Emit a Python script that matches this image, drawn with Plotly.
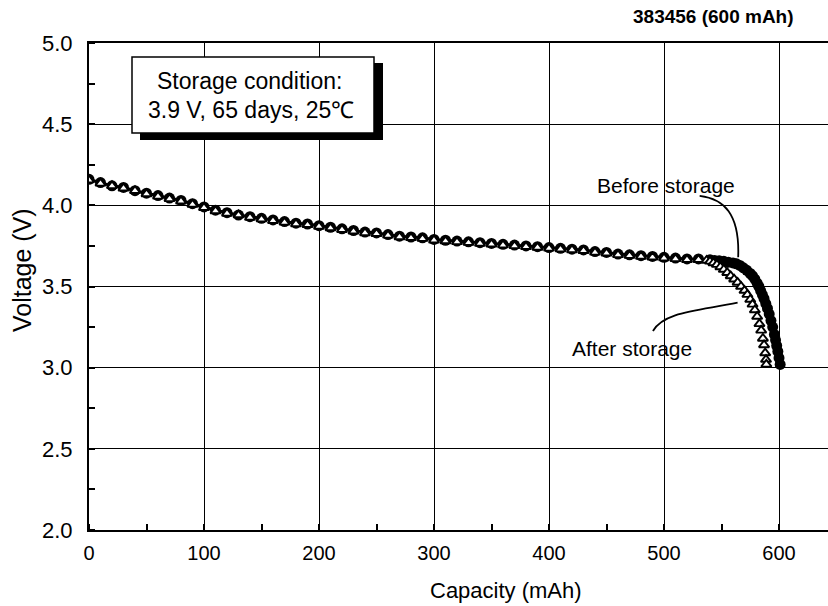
import plotly.graph_objects as go

# ---- data ----
before_cap = [0, 10, 20, 30, 40, 50, 60, 70, 80, 90, 100, 110, 120, 130, 140, 150, 160, 170, 180, 190,
              200, 210, 220, 230, 240, 250, 260, 270, 280, 290, 300, 310, 320, 330, 340, 350, 360, 370,
              380, 390, 400, 410, 420, 430, 440, 450, 460, 470, 480, 490, 500, 510, 520, 530, 540,
              544, 548, 552, 556, 560, 563, 566, 569, 572, 575, 577, 579, 581, 582.5, 584, 585.5,
              587, 588.5, 590, 591.5, 593, 594.5, 596, 597, 598, 599, 600, 601]
before_v = [4.16, 4.14, 4.12, 4.11, 4.09, 4.075, 4.06, 4.045, 4.03, 4.01, 3.99, 3.97, 3.955, 3.94, 3.93,
            3.92, 3.91, 3.90, 3.89, 3.885, 3.875, 3.865, 3.855, 3.845, 3.835, 3.83, 3.82, 3.81, 3.805,
            3.80, 3.79, 3.785, 3.78, 3.775, 3.77, 3.765, 3.76, 3.755, 3.75, 3.745, 3.74, 3.735, 3.73,
            3.725, 3.715, 3.71, 3.70, 3.695, 3.69, 3.685, 3.68, 3.675, 3.67, 3.67, 3.665,
            3.66, 3.658, 3.655, 3.65, 3.645, 3.64, 3.63, 3.615, 3.60, 3.58, 3.565, 3.545, 3.52, 3.50,
            3.475, 3.45, 3.425, 3.395, 3.365, 3.33, 3.29, 3.25, 3.205, 3.17, 3.135, 3.10, 3.06, 3.02]

after_cap = [0, 10, 20, 30, 40, 50, 60, 70, 80, 90, 100, 110, 120, 130, 140, 150, 160, 170, 180, 190,
             200, 210, 220, 230, 240, 250, 260, 270, 280, 290, 300, 310, 320, 330, 340, 350, 360, 370,
             380, 390, 400, 410, 420, 430, 440, 450, 460, 470, 480, 490, 500, 510, 520, 530, 537,
             540, 543, 546, 549, 552, 555, 558, 561, 564, 567, 570, 572.5, 575, 577, 579, 581, 583,
             584.5, 586, 587, 588, 588.7, 589]
after_v = [4.155, 4.135, 4.12, 4.105, 4.09, 4.07, 4.055, 4.04, 4.025, 4.005, 3.985, 3.965, 3.95, 3.94,
           3.925, 3.915, 3.905, 3.895, 3.885, 3.88, 3.87, 3.86, 3.85, 3.84, 3.83, 3.825, 3.815, 3.805,
           3.80, 3.795, 3.785, 3.78, 3.775, 3.77, 3.765, 3.76, 3.755, 3.75, 3.745, 3.74, 3.735, 3.73,
           3.725, 3.72, 3.71, 3.705, 3.695, 3.69, 3.685, 3.68, 3.675, 3.67, 3.665, 3.665, 3.66,
           3.655, 3.645, 3.635, 3.62, 3.605, 3.585, 3.565, 3.545, 3.525, 3.50, 3.475, 3.45, 3.42,
           3.39, 3.355, 3.315, 3.27, 3.23, 3.18, 3.14, 3.09, 3.05, 3.02]

x_ticks = [0, 100, 200, 300, 400, 500, 600]
y_ticks = [2.0, 2.5, 3.0, 3.5, 4.0, 4.5, 5.0]

FONT = "Liberation Sans, Arial, sans-serif"

# pixel helpers for paper placement (plot area: x 89..828, y 43..530)
L, R, T, B = 89, 828, 43, 530
def px(x):
    return (x - L) / (R - L)
def py(y):
    return (B - y) / (B - T)

fig = go.Figure()
fig.add_trace(go.Scatter(
    x=before_cap, y=before_v, mode="lines+markers", name="Before storage",
    line=dict(color="black", width=3),
    marker=dict(symbol="circle", size=11, color="black", line=dict(width=0)),
))
fig.add_trace(go.Scatter(
    x=after_cap, y=after_v, mode="markers", name="After storage",
    marker=dict(symbol="triangle-up", size=9, color="white", line=dict(width=1.9, color="black")),
))

# annotation arrows (curves)
fig.add_shape(type="path", xref="x", yref="y",
              path="M 531,4.058 C 552,4.04 566,3.95 564.5,3.68",
              line=dict(color="black", width=1.8))
fig.add_shape(type="path", xref="x", yref="y",
              path="M 490.4,3.226 C 500,3.345 530,3.35 564,3.40",
              line=dict(color="black", width=1.8))

# storage condition box with shadow
fig.add_shape(type="rect", xref="paper", yref="paper",
              x0=px(140), x1=px(383), y0=py(140), y1=py(63),
              fillcolor="black", line=dict(width=0), layer="above")
fig.add_shape(type="rect", xref="paper", yref="paper",
              x0=px(132), x1=px(374), y0=py(133), y1=py(57),
              fillcolor="white", line=dict(width=1.5, color="black"), layer="above")

fig.add_annotation(xref="paper", yref="paper", x=px(249), y=py(81), text="Storage condition:",
                   showarrow=False, font=dict(family=FONT, size=23, color="black"),
                   xanchor="center", yanchor="middle")
fig.add_annotation(xref="paper", yref="paper", x=px(251), y=py(110), text="3.9 V, 65 days, 25\u2103",
                   showarrow=False, font=dict(family=FONT, size=23, color="black"),
                   xanchor="center", yanchor="middle")

fig.add_annotation(xref="paper", yref="paper", x=px(666), y=py(186), text="Before storage",
                   showarrow=False, font=dict(family=FONT, size=21, color="black"),
                   xanchor="center", yanchor="middle")
fig.add_annotation(xref="paper", yref="paper", x=px(632), y=py(348), text="After storage",
                   showarrow=False, font=dict(family=FONT, size=21, color="black"),
                   xanchor="center", yanchor="middle")

# title
fig.add_annotation(xref="paper", yref="paper", x=px(796), y=py(17), text="<b>383456 (600 mAh)</b>",
                   showarrow=False, font=dict(family=FONT, size=19, color="black"),
                   xanchor="right", yanchor="middle")

# axis titles
fig.add_annotation(xref="paper", yref="paper", x=px(506), y=py(590), text="Capacity (mAh)",
                   showarrow=False, font=dict(family=FONT, size=22, color="black"),
                   xanchor="center", yanchor="middle")
fig.add_annotation(xref="paper", yref="paper", x=px(22), y=py(270), text="Voltage (V)",
                   showarrow=False, font=dict(family=FONT, size=25, color="black"),
                   textangle=-90, xanchor="center", yanchor="middle")

fig.update_layout(
    width=828, height=606,
    margin=dict(l=L, r=0, t=T, b=606 - B),
    paper_bgcolor="white", plot_bgcolor="white",
    showlegend=False,
    font=dict(family=FONT, color="black"),
    xaxis=dict(
        range=[0, (R - L) / 1.15], tickvals=x_ticks, ticktext=[str(v) for v in x_ticks],
        showgrid=True, gridcolor="black", gridwidth=1.2,
        showline=True, linecolor="black", linewidth=2, mirror=True,
        ticks="", tickfont=dict(size=20, family=FONT), ticklabelstandoff=4,
        minor=dict(dtick=50, ticks="inside", ticklen=6, tickcolor="black", tickwidth=1.5, showgrid=False),
        zeroline=False,
    ),
    yaxis=dict(
        range=[2.0, 5.0], tickvals=y_ticks, ticktext=[f"{v:.1f}" for v in y_ticks],
        showgrid=True, gridcolor="black", gridwidth=1.2,
        showline=True, linecolor="black", linewidth=2, mirror=False,
        ticks="", tickfont=dict(size=22, family=FONT), ticklabelstandoff=10,
        minor=dict(dtick=0.25, ticks="inside", ticklen=6, tickcolor="black", tickwidth=1.5, showgrid=False),
        zeroline=False,
    ),
)

fig.write_html("out.html")
